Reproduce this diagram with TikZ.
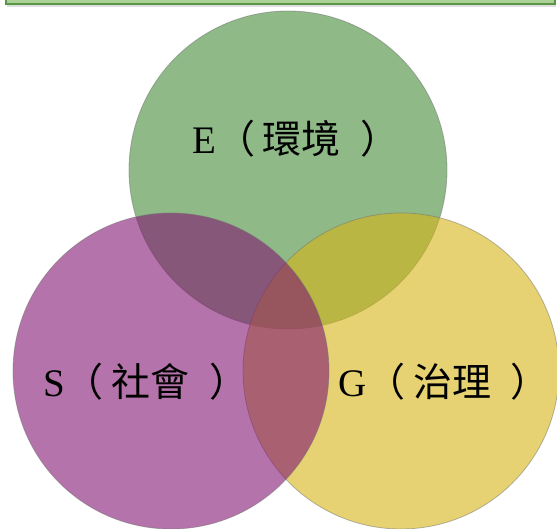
\documentclass[tikz,border=0pt]{standalone}
\usepackage{fontspec}
\usepackage{tikz}
\usetikzlibrary{shadows}
\newfontfamily\latinfont{Liberation Serif}
\newfontfamily\cjkfont{Noto Sans CJK TC}
\definecolor{envgreen}{RGB}{68,138,55}
\definecolor{govyellow}{RGB}{213,180,22}
\definecolor{socpurple}{RGB}{130,22,113}
\definecolor{barfill}{RGB}{170,210,150}
\definecolor{barline}{RGB}{88,150,70}
\newcommand{\esglabel}[2]{{\latinfont #1}{\cjkfont （\hspace{0.2em}#2\hspace{0.5em}）}}

\begin{document}
\begin{tikzpicture}[x=1pt,y=-1pt,semithick]
  \tikzstyle{ring}=[circle,inner sep=0pt,minimum size=316pt,fill opacity=0.6,
                    draw=black!55,draw opacity=0.5,line width=0.8pt]
  \tikzstyle{esg}=[anchor=base west,inner sep=0pt,text=black,
                   font=\fontsize{39}{47}\selectfont]

  \useasboundingbox (0,0) rectangle (557,529);

  % title bar, mostly cut off at the top
  \draw[barline,fill=barfill,line width=1.6pt,
        drop shadow={opacity=0.25,shadow xshift=1pt,shadow yshift=-3pt}]
       (6,-20) rectangle (555,4);

  \node[ring,fill=envgreen,minimum size=318pt] (env) at (288,170) {};
  \node[ring,fill=govyellow]                   (gov) at (401,371) {};
  \node[ring,fill=socpurple]                   (soc) at (171,371) {};

  \node[esg] (envtext) at (192,154) {\esglabel{E}{環境}};
  \node[esg] (soctext) at (43,396)  {\esglabel{S}{社會}};
  \node[esg] (govtext) at (338,396) {\esglabel{G}{治理}};
\end{tikzpicture}
\end{document}
